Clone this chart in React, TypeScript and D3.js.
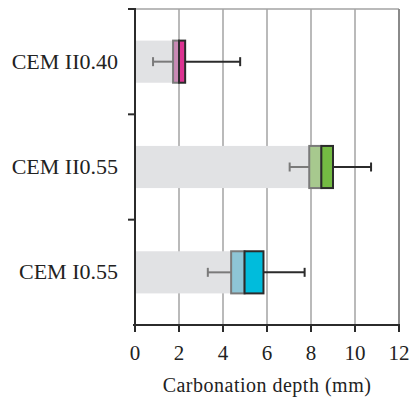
import React from "react";
import * as d3 from "d3";

// Carbonation depth summary per mix (mm)
const categories = ["CEM II0.40", "CEM II0.55", "CEM I0.55"];
const minVals = [0.82, 7.03, 3.31];
const q1Vals = [1.73, 7.92, 4.37];
const medianVals = [2.0, 8.47, 4.98];
const q3Vals = [2.28, 9.0, 5.84];
const maxVals = [4.78, 10.73, 7.71];
const lowerColors = ["#c98ab5", "#a7c98e", "#8ec5d6"];
const upperColors = ["#dc3391", "#74bb43", "#00bcdc"];
const xTicks = [0, 2, 4, 6, 8, 10, 12];
const xTitle = "Carbonation depth (mm)";

const W = 411;
const H = 398;
const left = 135;
const right = 399;
const top = 9;
const bottom = 325;
const FONT = "Liberation Serif";

export default function App() {
  const x = d3.scaleLinear().domain([0, 12]).range([left, right]);
  const y = d3.scaleBand<string>().domain(categories).range([top, bottom]);
  const bw = y.bandwidth();
  const barH = bw * 0.4;
  const capH = 9;
  const dark = "#2b2b2b";
  const mid = "#7a7a7a";
  const grid = "#a3a3a3";

  return (
    <svg
      width={W}
      height={H}
      style={{ position: "absolute", left: 0, top: 0, background: "#fff" }}
    >
      {/* vertical gridlines */}
      {xTicks.slice(1, -1).map((t) => (
        <line key={t} x1={x(t)} x2={x(t)} y1={top} y2={bottom} stroke={grid} strokeWidth={1.5} />
      ))}
      {/* plot frame: top and right */}
      <line x1={left} x2={right} y1={top} y2={top} stroke={grid} strokeWidth={1.5} />
      <line x1={right} x2={right} y1={top} y2={bottom} stroke="#8a8a8a" strokeWidth={2} />

      {categories.map((c, i) => {
        const cy = (y(c) as number) + bw / 2;
        const y0 = cy - barH / 2;
        return (
          <g key={c}>
            {/* base bar up to the first quartile */}
            <rect x={x(0)} y={y0} width={x(q1Vals[i]) - x(0)} height={barH} fill="#e1e2e4" />
            {/* lower whisker */}
            <line x1={x(minVals[i])} x2={x(q1Vals[i])} y1={cy} y2={cy} stroke={mid} strokeWidth={2} />
            <line x1={x(minVals[i])} x2={x(minVals[i])} y1={cy - capH / 2} y2={cy + capH / 2} stroke={mid} strokeWidth={2} />
            {/* upper whisker */}
            <line x1={x(q3Vals[i])} x2={x(maxVals[i])} y1={cy} y2={cy} stroke={dark} strokeWidth={2} />
            <line x1={x(maxVals[i])} x2={x(maxVals[i])} y1={cy - capH / 2} y2={cy + capH / 2} stroke={dark} strokeWidth={2} />
            {/* lower box */}
            <rect
              x={x(q1Vals[i])}
              y={y0}
              width={x(medianVals[i]) - x(q1Vals[i])}
              height={barH}
              fill={lowerColors[i]}
              stroke={mid}
              strokeWidth={2}
            />
            {/* upper box */}
            <rect
              x={x(medianVals[i])}
              y={y0}
              width={x(q3Vals[i]) - x(medianVals[i])}
              height={barH}
              fill={upperColors[i]}
              stroke={dark}
              strokeWidth={2}
            />
            <text x={118} y={cy + 7} textAnchor="end" fontFamily={FONT} fontSize={22} fill="#222">
              {c}
            </text>
          </g>
        );
      })}

      {/* y axis with band separators */}
      <line x1={left} x2={left} y1={top - 1} y2={bottom + 1} stroke={dark} strokeWidth={2} />
      {[top, ...categories.slice(1).map((c) => y(c) as number)].map((v, i) => (
        <line key={i} x1={left - 7} x2={left} y1={v} y2={v} stroke={dark} strokeWidth={2} />
      ))}

      {/* x axis */}
      <line x1={left - 2} x2={right + 1} y1={bottom} y2={bottom} stroke={dark} strokeWidth={2} />
      {xTicks.map((t) => (
        <g key={t}>
          <line x1={x(t)} x2={x(t)} y1={bottom} y2={bottom + 7} stroke={dark} strokeWidth={2} />
          <text x={x(t)} y={360} textAnchor="middle" fontFamily={FONT} fontSize={21} fill="#222">
            {t}
          </text>
        </g>
      ))}
      <text
        x={(left + right) / 2}
        y={392}
        textAnchor="middle"
        fontFamily={FONT}
        fontSize={20}
        letterSpacing={0.5}
        fill="#222"
      >
        {xTitle}
      </text>
    </svg>
  );
}
